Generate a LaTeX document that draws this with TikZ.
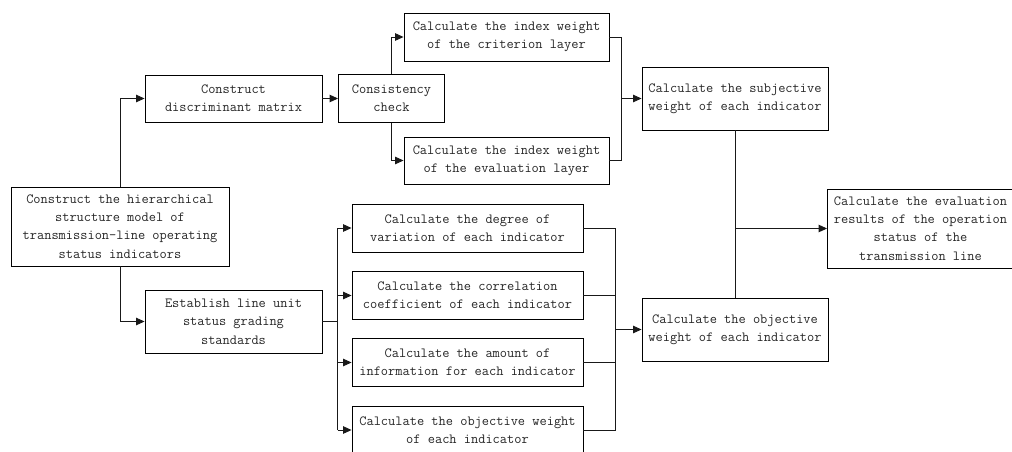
\documentclass[tikz,border=0pt]{standalone}
\usepackage{fontspec}
\usetikzlibrary{arrows.meta}
\begin{document}
\begin{tikzpicture}[x=1pt,y=-1pt,
  box/.style={draw=black, line width=0.9pt, inner sep=0pt, align=center,
    font=\ttfamily\fontsize{14}{18.3}\selectfont, text=black!85},
  conn/.style={line width=0.9pt, draw=black!90},
  arr/.style={conn, -{Triangle[length=8.5pt,width=7.5pt]}}]
\useasboundingbox (0,0) rectangle (1012,452);
\node[box, minimum width=218pt, minimum height=79pt] (root) at (120,226.5) {Construct the hierarchical\\structure model of\\transmission-line operating\\status indicators};
\node[box, minimum width=177pt, minimum height=47pt] (disc) at (233.5,98.5) {Construct\\discriminant matrix};
\node[box, minimum width=106pt, minimum height=48pt] (cons) at (391.5,98.5) {Consistency\\check};
\node[box, minimum width=205pt, minimum height=48pt] (crit) at (506.5,37) {Calculate the index weight\\of the criterion layer};
\node[box, minimum width=205pt, minimum height=47pt] (evl) at (506.5,160.5) {Calculate the index weight\\of the evaluation layer};
\node[box, minimum width=186pt, minimum height=63pt] (subj) at (735,98.5) {Calculate the subjective\\weight of each indicator};
\node[box, minimum width=177pt, minimum height=63pt] (est) at (233.5,321.5) {Establish line unit\\status grading\\standards};
\node[box, minimum width=231pt, minimum height=48pt] (m1) at (467.5,228) {Calculate the degree of\\variation of each indicator};
\node[box, minimum width=231pt, minimum height=48pt] (m2) at (467.5,295.5) {Calculate the correlation\\coefficient of each indicator};
\node[box, minimum width=231pt, minimum height=48pt] (m3) at (467.5,362.5) {Calculate the amount of\\information for each indicator};
\node[box, minimum width=231pt, minimum height=48pt] (m4) at (467.5,430) {Calculate the objective weight\\of each indicator};
\node[box, minimum width=186pt, minimum height=63pt] (obj) at (735,329.5) {Calculate the objective\\weight of each indicator};
\node[box, minimum width=186pt, minimum height=79pt] (res) at (920.5,228.5) {Calculate the evaluation\\results of the operation\\status of the\\transmission line};
% root branches
\draw[arr] (root.north) |- (disc.west);
\draw[arr] (root.south) |- (est.west);
\draw[arr] (disc.east) -- (cons.west);
\draw[arr] (cons.north) |- (crit.west);
\draw[arr] (cons.south) |- (evl.west);
% merge to subjective
\coordinate (jS) at (621.5,98.5);
\draw[conn] (crit.east) -| (jS) |- (evl.east);
\draw[arr] (jS) -- (subj.west);
% est split
\coordinate (sp) at (337.5,321.5);
\draw[conn] (est.east) -- (sp);
\coordinate (spT) at (337.5,228);
\coordinate (spB) at (337.5,430);
\draw[conn] (spT) -- (spB);
\draw[arr] (spT) -- (m1.west);
\draw[arr] (337.5,295.5) -- (m2.west);
\draw[arr] (337.5,362.5) -- (m3.west);
\draw[arr] (spB) -- (m4.west);
% merge to objective
\coordinate (jO) at (615,329.5);
\draw[conn] (m1.east) -| (jO);
\draw[conn] (m4.east) -| (jO);
\draw[conn] (m2.east) -- (615,295.5);
\draw[conn] (m3.east) -- (615,362.5);
\draw[arr] (jO) -- (obj.west);
% final
\draw[conn] (subj.south) -- (obj.north);
\coordinate (jR) at (735,228.5);
\draw[arr] (jR) -- (res.west);
\end{tikzpicture}
\end{document}
